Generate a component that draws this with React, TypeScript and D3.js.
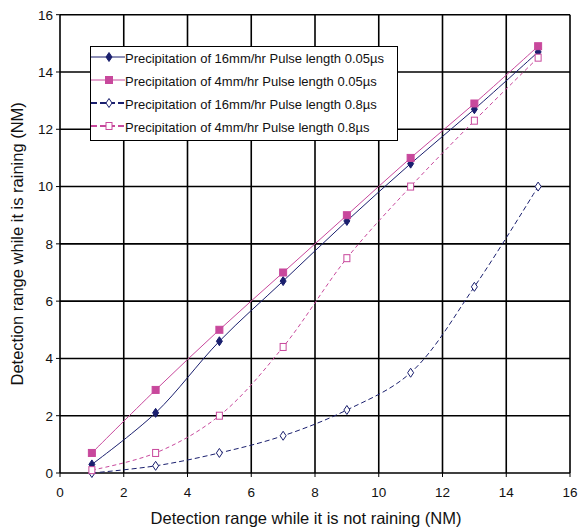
import React from "react";
import * as d3 from "d3";

const xValues = [1, 3, 5, 7, 9, 11, 13, 15];
const s16Short = [0.3, 2.1, 4.6, 6.7, 8.8, 10.8, 12.7, 14.7];
const s4Short = [0.7, 2.9, 5.0, 7.0, 9.0, 11.0, 12.9, 14.9];
const s16Long = [0.0, 0.25, 0.7, 1.3, 2.2, 3.5, 6.5, 10.0];
const s4Long = [0.1, 0.7, 2.0, 4.4, 7.5, 10.0, 12.3, 14.5];
const seriesNames = [
  "Precipitation of 16mm/hr Pulse length 0.05µs",
  "Precipitation of 4mm/hr Pulse length 0.05µs",
  "Precipitation of 16mm/hr Pulse length 0.8µs",
  "Precipitation of 4mm/hr Pulse length 0.8µs",
];
const xTicks = [0, 2, 4, 6, 8, 10, 12, 14, 16];
const yTicks = [0, 2, 4, 6, 8, 10, 12, 14, 16];

const NAVY = "#1a1f6e";
const MAG = "#c8489c";

const series = [
  { name: seriesNames[0], values: s16Short, color: NAVY, dash: null, marker: "diamond", filled: true },
  { name: seriesNames[1], values: s4Short, color: MAG, dash: null, marker: "square", filled: true },
  { name: seriesNames[2], values: s16Long, color: NAVY, dash: "5,3", marker: "diamond", filled: false },
  { name: seriesNames[3], values: s4Long, color: MAG, dash: "4,3", marker: "square", filled: false },
];

function Marker({ type, filled, color, x, y }: any) {
  if (type === "square") {
    const s = filled ? 7 : 6;
    return (
      <rect
        x={x - s / 2}
        y={y - s / 2 - (filled ? 0 : 0.5)}
        width={s}
        height={filled ? s : s + 1}
        fill={filled ? color : "white"}
        stroke={color}
        strokeWidth={1}
      />
    );
  }
  const w = 3;
  const h = 4.5;
  return (
    <path
      d={`M${x},${y - h}L${x + w},${y}L${x},${y + h}L${x - w},${y}Z`}
      fill={filled ? color : "white"}
      stroke={color}
      strokeWidth={1}
    />
  );
}

export default function App() {
  const W = 581;
  const H = 531;
  const left = 60;
  const right = 570;
  const top = 14.7;
  const bottom = 473;
  const x = d3.scaleLinear().domain([0, 16]).range([left, right]);
  const y = d3.scaleLinear().domain([0, 16]).range([bottom, top]);
  const line = d3
    .line<[number, number]>()
    .x((d) => x(d[0]))
    .y((d) => y(d[1]))
    .curve(d3.curveCatmullRom.alpha(0.5));
  const font = "Arial, 'Liberation Sans', sans-serif";

  return (
    <svg width={W} height={H} style={{ position: "absolute", left: 0, top: 0 }} fontFamily={font}>
      <rect x={0} y={0} width={W} height={H} fill="white" />
      {xTicks.map((t) => (
        <line key={"gx" + t} x1={x(t)} x2={x(t)} y1={top} y2={bottom} stroke="#000" strokeWidth={1.6} />
      ))}
      {yTicks.map((t) => (
        <line key={"gy" + t} x1={left} x2={right} y1={y(t)} y2={y(t)} stroke="#000" strokeWidth={1.6} />
      ))}
      {xTicks.map((t) => (
        <line key={"tx" + t} x1={x(t)} x2={x(t)} y1={bottom} y2={bottom + 4} stroke="#000" strokeWidth={1} />
      ))}
      {yTicks.map((t) => (
        <line key={"ty" + t} x1={left - 4} x2={left} y1={y(t)} y2={y(t)} stroke="#000" strokeWidth={1} />
      ))}
      {xTicks.map((t) => (
        <text key={"lx" + t} x={x(t)} y={497} textAnchor="middle" fontSize={13.5} fill="#111">
          {t}
        </text>
      ))}
      {yTicks.map((t) => (
        <text key={"ly" + t} x={53} y={y(t) + 4.8} textAnchor="end" fontSize={13.5} fill="#111">
          {t}
        </text>
      ))}
      <text x={306} y={524} textAnchor="middle" fontSize={16.5} fill="#111">
        Detection range while it is not raining (NM)
      </text>
      <text
        transform={`translate(23,${(top + bottom) / 2}) rotate(-90)`}
        textAnchor="middle"
        fontSize={16.5}
        fill="#111"
      >
        Detection range while it is raining (NM)
      </text>
      {series.map((s, i) => {
        const pts = xValues.map((xv, j) => [xv, s.values[j]] as [number, number]);
        return (
          <g key={"s" + i}>
            <path
              d={line(pts) || ""}
              fill="none"
              stroke={s.color}
              strokeWidth={1}
              strokeDasharray={s.dash || undefined}
            />
            {pts.map((p, j) => (
              <Marker key={j} type={s.marker} filled={s.filled} color={s.color} x={x(p[0])} y={y(p[1])} />
            ))}
          </g>
        );
      })}
      <g>
        <rect x={90.5} y={46.5} width={307} height={94} fill="white" stroke="#000" strokeWidth={1} />
        {series.map((s, i) => {
          const ly = 57 + i * 23;
          return (
            <g key={"lg" + i}>
              <line
                x1={91}
                x2={125}
                y1={ly}
                y2={ly}
                stroke={s.color}
                strokeWidth={s.dash ? 2 : 1}
                strokeDasharray={s.dash ? "6,3" : undefined}
              />
              <Marker type={s.marker} filled={s.filled} color={s.color} x={109} y={ly} />
              <text x={125} y={ly + 6} fontSize={13} fill="#111">
                {s.name}
              </text>
            </g>
          );
        })}
      </g>
    </svg>
  );
}
